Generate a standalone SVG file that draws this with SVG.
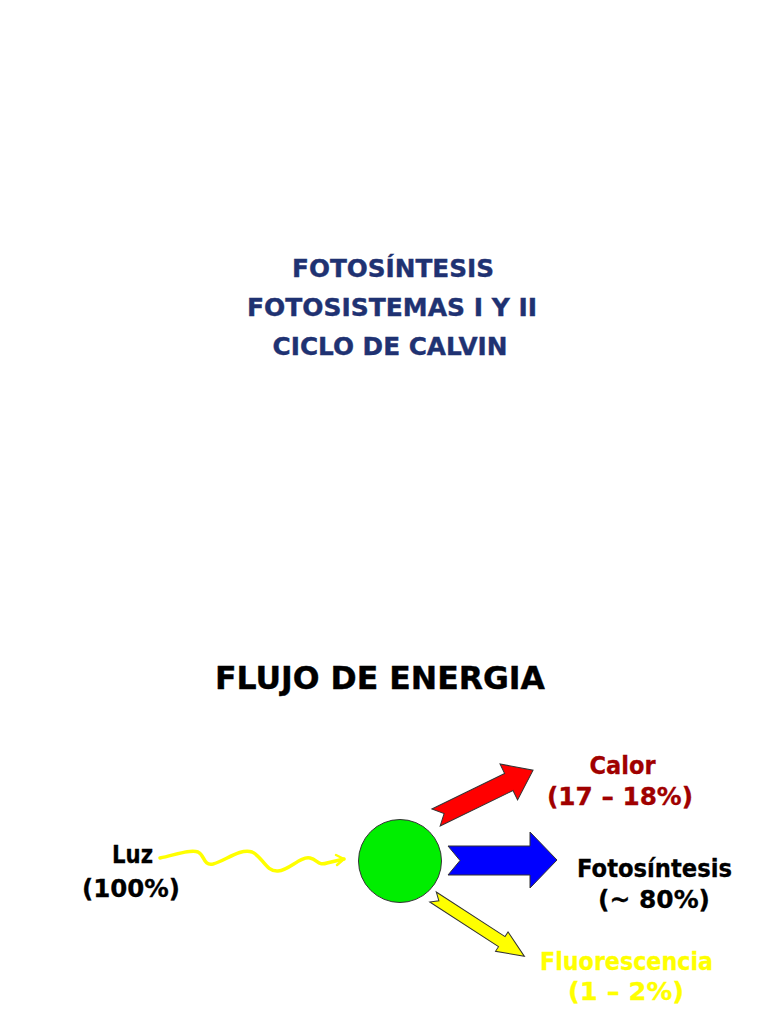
<svg xmlns="http://www.w3.org/2000/svg" width="768" height="1024" viewBox="0 0 768 1024">
<defs>
<style>
.t{font-family:"DejaVu Sans","Liberation Sans",sans-serif;font-weight:bold;text-anchor:middle}
.title{font-size:25px;fill:#1f3272;stroke:#1f3272;stroke-width:0.4}
.lbl{font-size:24px;stroke-width:0.3}
.arr{stroke:#333;stroke-width:1;stroke-linejoin:miter}
</style>
</defs>
<rect width="768" height="1024" fill="#ffffff"/>
<g id="title">
<text class="t title" x="393" y="277" textLength="202" lengthAdjust="spacingAndGlyphs">FOTOSÍNTESIS</text>
<text class="t title" x="392" y="316" textLength="290" lengthAdjust="spacingAndGlyphs">FOTOSISTEMAS I Y II</text>
<text class="t title" x="390" y="355" textLength="235" lengthAdjust="spacingAndGlyphs">CICLO DE CALVIN</text>
</g>
<g id="heading">
<text class="t" x="380" y="689" font-size="32" textLength="330" lengthAdjust="spacingAndGlyphs" stroke="#000" stroke-width="0.4">FLUJO DE ENERGIA</text>
</g>
<g id="connectors">
<path d="M160,858 C175,855 190,849 198,852 C205,855 203,866 213,864 C225,861 240,848 252,852 C262,856 266,872 278,871 C290,870 300,856 310,858 C318,860 318,866 327,863 L344,859" fill="none" stroke="#ffff00" stroke-width="3.5" stroke-linecap="round"/>
<path d="M336,855 L344,859 L337,865" fill="none" stroke="#ffff00" stroke-width="2.5" stroke-linecap="round" stroke-linejoin="round"/>
<polygon class="arr" fill="#ff0000" transform="translate(436,817.5) rotate(-26)" points="0,-9.5 81,-9.5 81,-20 108,0 81,20 81,9.5 0,9.5 9,0"/>
<polygon class="arr" fill="#0000ff" points="448,846 530,846 530,832 557,860 530,888 530,875 448,875 460,860.5"/>
<polygon class="arr" fill="#ffff00" transform="translate(433,897) rotate(33)" points="0,-6 82,-6 82,-11.5 109,0 82,11.5 82,6 0,6 7,0"/>
</g>
<g id="pigment">
<circle cx="400" cy="861" r="41.5" fill="#00ee00" stroke="#333" stroke-width="1"/>
</g>
<g id="luz" fill="#000" stroke="#000">
<text class="t lbl" x="132.5" y="863" textLength="41" lengthAdjust="spacingAndGlyphs">Luz</text>
<text class="t lbl" x="131" y="897" textLength="98" lengthAdjust="spacingAndGlyphs">(100%)</text>
</g>
<g id="calor" fill="#a00000" stroke="#a00000">
<text class="t lbl" x="622.5" y="774" textLength="66" lengthAdjust="spacingAndGlyphs">Calor</text>
<text class="t lbl" x="620" y="805" textLength="146" lengthAdjust="spacingAndGlyphs">(17 – 18%)</text>
</g>
<g id="fotosintesis" fill="#000" stroke="#000">
<text class="t lbl" x="654.5" y="877" textLength="155" lengthAdjust="spacingAndGlyphs">Fotosíntesis</text>
<text class="t lbl" x="654" y="908" textLength="112" lengthAdjust="spacingAndGlyphs">(~ 80%)</text>
</g>
<g id="fluorescencia" fill="#ffff00" stroke="#ffff00">
<text class="t lbl" x="626.5" y="970" textLength="173" lengthAdjust="spacingAndGlyphs">Fluorescencia</text>
<text class="t lbl" x="626" y="1000" textLength="116" lengthAdjust="spacingAndGlyphs">(1 – 2%)</text>
</g>
</svg>
